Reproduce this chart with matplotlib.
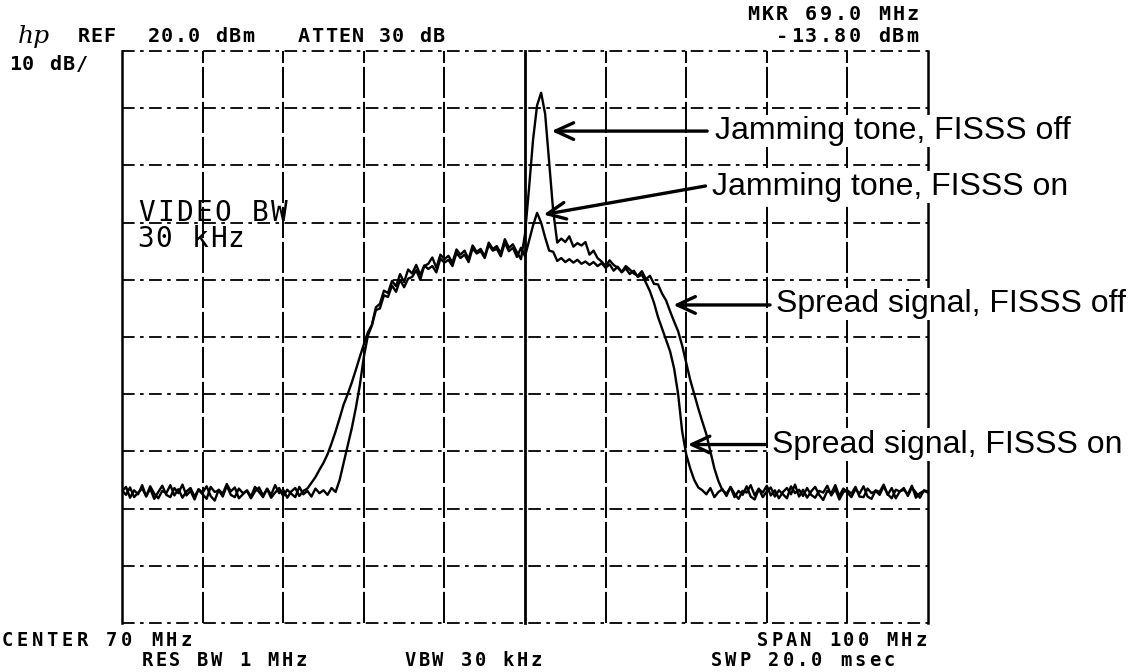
import numpy as np
import matplotlib
matplotlib.use("Agg")
import matplotlib.pyplot as plt

# sweep: 20 .. 120 MHz in 0.5 MHz steps (span 100 MHz, centre 70 MHz)
F_START = 20.0
F_STEP = 0.5
REF_DBM = 20.0
DB_PER_DIV = 10.0

# trace levels in dBm, one row per 5 MHz
trace_fisss_off = [
    -57.0, -56.2, -58.1, -56.8, -57.5, -55.9, -57.9, -56.5, -58.3, -57.1,
    -56.0, -57.6, -58.0, -56.4, -57.3, -55.8, -57.7, -56.9, -58.4, -56.6,
    -57.2, -56.1, -57.8, -58.6, -56.7, -57.4, -55.7, -57.0, -56.3, -58.2,
    -57.5, -56.8, -57.9, -56.2, -57.1, -58.0, -56.5, -57.6, -55.9, -57.3,
    -56.7, -58.1, -57.0, -56.4, -57.8, -56.9, -56.5, -55.5, -54.5, -53.2,
    -52.0, -50.5, -48.6, -46.5, -44.2, -41.8, -40.0, -38.0, -35.8, -33.5,
    -31.3, -29.2, -27.9, -24.8, -24.2, -21.9, -22.3, -20.2, -21.1, -19.0,
    -20.4, -18.2, -18.9, -17.4, -19.1, -17.6, -17.2, -16.1, -17.9, -15.6,
    -16.4, -15.8, -17.0, -14.7, -15.6, -14.9, -16.4, -14.0, -15.1, -14.6,
    -15.9, -13.5, -14.6, -14.1, -15.4, -12.9, -14.4, -13.8, -15.2, -16.4,
    -12.0, -4.0, 4.5, 10.5, 12.7, 9.0, 0.5, -8.0, -13.5, -12.8,
    -13.4, -12.4, -14.2, -13.6, -14.0, -13.4, -15.6, -14.9, -16.2, -16.8,
    -17.6, -16.6, -17.4, -17.9, -18.6, -17.6, -18.2, -18.9, -19.3, -18.5,
    -19.9, -19.3, -20.7, -20.8, -22.4, -23.6, -25.5, -27.3, -29.0, -31.5,
    -34.5, -37.5, -40.0, -42.5, -44.8, -47.0, -50.0, -53.0, -55.2, -56.8,
    -57.4, -56.3, -58.0, -56.9, -57.6, -56.1, -57.9, -58.4, -56.6, -57.2,
    -56.0, -57.7, -56.8, -58.2, -57.1, -56.4, -57.5, -55.8, -57.9, -56.7,
    -58.1, -57.0, -56.2, -57.6, -58.5, -56.9, -57.3, -55.9, -57.8, -56.5,
    -57.2, -58.0, -56.6, -57.4, -56.1, -57.9, -58.3, -56.8, -57.1, -55.8,
    -57.6, -56.4, -58.2, -57.0, -56.7, -57.5, -56.0, -58.1, -57.3, -56.9,
    -57.2,
]

trace_fisss_on = [
    -56.8, -57.6, -56.3, -58.0, -57.2, -56.5, -57.8, -56.1, -57.4, -58.2,
    -56.9, -57.3, -55.9, -57.7, -56.6, -58.1, -57.0, -56.4, -57.9, -56.7,
    -57.5, -58.3, -56.2, -57.1, -56.8, -57.9, -56.0, -57.6, -58.0, -56.5,
    -57.3, -56.9, -58.2, -57.0, -56.3, -57.7, -56.6, -58.1, -57.2, -56.4,
    -57.8, -56.7, -57.4, -58.0, -56.2, -57.5, -56.9, -57.9, -56.5, -57.3,
    -56.8, -57.6, -56.4, -57.1, -55.0, -52.0, -49.0, -46.0, -42.5, -38.5,
    -33.5, -29.8, -28.0, -25.3, -25.0, -22.7, -23.0, -21.0, -22.1, -20.0,
    -21.3, -19.8, -19.5, -18.3, -20.0, -17.5, -18.1, -17.6, -18.7, -16.3,
    -17.0, -16.5, -17.6, -15.3, -16.2, -15.6, -16.9, -14.5, -15.4, -15.0,
    -16.2, -13.9, -14.9, -14.6, -15.9, -13.5, -15.0, -14.4, -16.0, -14.4,
    -15.9, -13.2, -10.5, -8.3, -10.0, -12.6, -14.9, -15.1, -16.7, -16.2,
    -16.9, -16.4, -17.0, -16.5, -17.2, -16.8, -17.4, -16.9, -17.6, -17.1,
    -17.9, -17.3, -18.4, -17.7, -18.7, -18.0, -19.0, -18.4, -19.5, -19.1,
    -20.5, -22.0, -24.0, -26.5, -28.5, -30.5, -32.5, -35.5, -40.0, -46.5,
    -50.5, -53.0, -55.0, -56.3, -56.8, -57.5, -56.4, -58.0, -57.1, -56.6,
    -57.8, -56.2, -57.4, -58.3, -56.9, -57.2, -55.9, -57.7, -56.5, -58.0,
    -57.0, -56.3, -57.9, -56.8, -57.5, -58.2, -56.1, -57.3, -56.7, -57.8,
    -56.4, -57.6, -58.1, -56.9, -57.2, -56.0, -57.7, -56.6, -58.4, -57.1,
    -56.8, -57.4, -56.2, -57.9, -58.0, -56.5, -57.3, -56.9, -57.6, -56.1,
    -57.5, -58.2, -56.7, -57.0, -56.4, -57.8, -56.3, -57.2, -58.1, -56.8,
    -57.0,
]

# (label, text pos MHz/dBm, arrow start, arrow tip)
callouts = [
    ("Jamming tone, FISSS off", (93.6, 6.0), (92.6, 6.0), (73.3, 6.0)),
    ("Jamming tone, FISSS on", (93.2, -3.8), (92.4, -3.6), (72.3, -8.6)),
    ("Spread signal, FISSS off", (101.2, -24.2), (100.4, -24.4), (88.4, -24.4)),
    ("Spread signal, FISSS on", (100.6, -48.8), (99.8, -48.8), (90.2, -48.8)),
]

W, H = 1130, 672
INK = "black"
MONO = "DejaVu Sans Mono"


def px(x, y):
    """Figure pixel (from top-left) to figure fraction."""
    return x / W, 1 - y / H


def label(x, y, s, pitch=13.5, ha="left", size=14.5, weight="bold"):
    """Plotter-style text: one glyph per fixed-width cell."""
    if ha == "right":
        x = x - pitch * len(s)
    for i, ch in enumerate(s):
        if ch == " ":
            continue
        fig.text(*px(x + pitch * (i + 0.5), y), ch, ha="center", va="center",
                 fontsize=size, family=MONO, weight=weight, color=INK)


fig = plt.figure(figsize=(W / 100, H / 100), dpi=100)
fig.patch.set_facecolor("white")
ax = fig.add_axes([122 / W, (H - 623) / H, 806 / W, 572 / H])
f_lo, f_hi = F_START, F_START + F_STEP * (len(trace_fisss_off) - 1)
db_lo, db_hi = REF_DBM - 10 * DB_PER_DIV, REF_DBM
ax.set_xlim(f_lo, f_hi)
ax.set_ylim(db_lo, db_hi)
ax.axis("off")

# graticule
xdiv = np.linspace(f_lo, f_hi, 11)
ydiv = np.linspace(db_lo, db_hi, 11)
for y in ydiv:
    ax.plot([f_lo, f_hi], [y, y], color=INK, lw=1.3, ls=(0, (7, 3, 2, 3)),
            clip_on=False)
for i, x in enumerate(xdiv):
    if i in (0, 10):
        ax.plot([x, x], [db_lo, db_hi], color=INK, lw=1.8, clip_on=False)
    elif i == 5:
        ax.plot([x, x], [db_lo, db_hi], color=INK, lw=2.0, clip_on=False)
    else:
        ax.plot([x, x], [db_lo, db_hi], color=INK, lw=1.4, ls=(0, (16, 2)),
                clip_on=False)

# traces
freq_off = F_START + F_STEP * np.arange(len(trace_fisss_off))
freq_on = F_START + F_STEP * np.arange(len(trace_fisss_on))
ax.plot(freq_off, trace_fisss_off, color=INK, lw=1.7, solid_joinstyle="round")
ax.plot(freq_on, trace_fisss_on, color=INK, lw=1.7, solid_joinstyle="round")

# call-outs (pasted on white, over the graticule)
for text, tpos, start, tip in callouts:
    ax.annotate("", xy=tip, xytext=start, annotation_clip=False,
                arrowprops=dict(arrowstyle="->,head_length=1.3,head_width=0.6",
                                lw=2.4, color=INK, shrinkA=0, shrinkB=0))
    ax.text(tpos[0], tpos[1], text, fontsize=23, family="Liberation Sans",
            ha="left", va="center", color=INK, clip_on=False, zorder=5,
            bbox=dict(facecolor="white", edgecolor="none", pad=1))

# analyser annotations
fig.text(*px(18, 37), "hp", fontsize=18, style="italic", family="DejaVu Serif",
         va="center", ha="left")
label(78, 37, "REF", pitch=12.5)
label(147, 37, "20.0 dBm")
label(297, 37, "ATTEN 30 dB")
label(920, 15, "MKR 69.0 MHz", ha="right", pitch=14.5)
label(920, 37, "-13.80 dBm", ha="right", pitch=14.5)
label(8, 65, "10 dB/")
label(137, 213, "VIDEO BW", pitch=19, size=20, weight="normal")
label(137, 239, "30 kHz", pitch=18, size=20, weight="normal")
label(0, 641, "CENTER 70 MHz", pitch=14.9, size=13.5)
label(928, 641, "SPAN 100 MHz", ha="right", pitch=14.4, size=13.5)
label(140, 661, "RES BW 1 MHz", pitch=14, size=13.5)
label(403, 661, "VBW 30 kHz", pitch=14, size=13.5)
label(709, 661, "SWP 20.0 msec", pitch=14.4, size=13.5)

fig.savefig("out.png", dpi=100, facecolor="white")
